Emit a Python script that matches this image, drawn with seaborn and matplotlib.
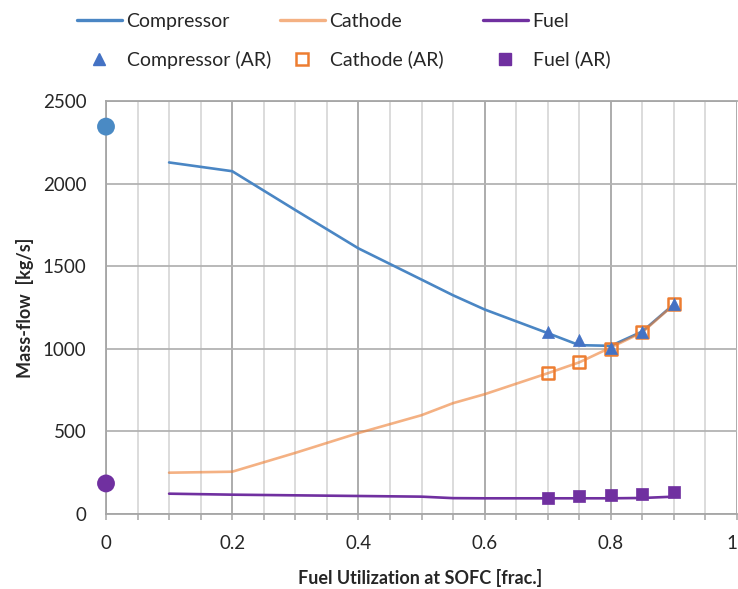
import numpy as np
import pandas as pd
import seaborn as sns
import matplotlib
matplotlib.use("Agg")
import matplotlib.pyplot as plt
from matplotlib.lines import Line2D
from matplotlib.ticker import MultipleLocator, FuncFormatter

# ---- data ----
x_line = [0.1, 0.2, 0.3, 0.4, 0.5, 0.55, 0.6, 0.7, 0.75, 0.8, 0.85, 0.9]
compressor = [2128, 2075, 1840, 1608, 1419, 1324, 1238, 1095, 1022, 1018, 1105, 1270]
cathode = [250, 256, 370, 490, 598, 671, 725, 852, 918, 1008, 1100, 1268]
fuel = [123, 117, 113, 109, 105, 96, 95, 95, 95, 95, 97, 105]

x_ar = [0.7, 0.75, 0.8, 0.85, 0.9]
compressor_ar = [1100, 1052, 1004, 1100, 1270]
cathode_ar = [852, 919, 998, 1100, 1270]
fuel_ar = [99, 109, 115, 119, 135]

x_ref = [0.0, 0.0]
ref_vals = [2345, 185]
ref_names = ["Compressor (ref)", "Fuel (ref)"]

c_comp = "#4a86c4"
c_cath = "#ED7D31"
c_fuel = "#7030A0"
c_comp_ar = "#4472C4"
c_ref_blue = "#4a8ac4"

sns.set_theme(style="white")
plt.rcParams["font.family"] = ["Lato", "DejaVu Sans"]

df_lines = pd.DataFrame({
    "x": x_line * 3,
    "y": compressor + cathode + fuel,
    "series": ["Compressor"] * len(x_line) + ["Cathode"] * len(x_line) + ["Fuel"] * len(x_line),
})

fig = plt.figure(figsize=(7.38, 5.89), dpi=100)
W, H = 738, 589
ax = fig.add_axes([106 / W, 1 - 514 / H, (737 - 106) / W, (514 - 101) / H])

lw = 1.9
sns.lineplot(data=df_lines[df_lines.series == "Compressor"], x="x", y="y", color=c_comp,
             lw=lw, ax=ax, legend=False, zorder=3)
sns.lineplot(data=df_lines[df_lines.series == "Cathode"], x="x", y="y", color=c_cath,
             lw=lw, alpha=0.6, ax=ax, legend=False, zorder=4)
sns.lineplot(data=df_lines[df_lines.series == "Fuel"], x="x", y="y", color=c_fuel,
             lw=lw, ax=ax, legend=False, zorder=3)

ms = 75
sns.scatterplot(x=x_ar, y=cathode_ar, marker="s", s=ms, facecolor="none",
                edgecolor=c_cath, linewidth=1.8, ax=ax, zorder=5)
sns.scatterplot(x=x_ar, y=compressor_ar, marker="^", s=ms, color=c_comp_ar,
                edgecolor=c_comp_ar, linewidth=0.5, ax=ax, zorder=6)
sns.scatterplot(x=x_ar, y=fuel_ar, marker="s", s=ms, color=c_fuel,
                edgecolor=c_fuel, linewidth=0.5, ax=ax, zorder=6)
sns.scatterplot(x=x_ref, y=ref_vals, hue=ref_names, palette=[c_ref_blue, c_fuel],
                s=165, edgecolor="none", ax=ax, legend=False, zorder=7, clip_on=False)

ax.set_xlim(0, 1)
ax.set_ylim(0, 2500)
ax.xaxis.set_major_locator(MultipleLocator(0.2))
ax.xaxis.set_minor_locator(MultipleLocator(0.05))
ax.yaxis.set_major_locator(MultipleLocator(500))
ax.xaxis.set_major_formatter(FuncFormatter(lambda v, p: f"{v:g}"))

ax.grid(which="minor", axis="x", color="#d9d9d9", lw=1.3, zorder=0)
ax.grid(which="major", axis="x", color="#a6a6a6", lw=1.3, zorder=0)
ax.grid(which="major", axis="y", color="#b3b3b3", lw=1.3, zorder=0)
ax.set_axisbelow(True)

for s in ["left", "bottom", "top"]:
    ax.spines[s].set_color("#a6a6a6")
    ax.spines[s].set_linewidth(1.3)
ax.spines["right"].set_visible(False)

ax.tick_params(axis="y", which="both", length=0, pad=14, labelsize=13.5, labelcolor="#262626")
ax.tick_params(axis="x", which="both", length=4, width=1.1, color="#a6a6a6", direction="out",
               pad=11, labelsize=13.5, labelcolor="#262626", bottom=True)

ax.set_xlabel("Fuel Utilization at SOFC [frac.]", fontsize=13, fontweight="bold",
              color="#262626", va="center")
ax.set_ylabel("Mass-flow  [kg/s]", fontsize=13, fontweight="bold", color="#262626",
              va="center")
ax.xaxis.set_label_coords((420 - 106) / 631, (514 - 578) / 413)
ax.yaxis.set_label_coords((25 - 106) / 631, 0.5)

# keep the last x tick label ("1") inside the figure edge
fig.canvas.draw()
for t in ax.get_xticklabels():
    if t.get_text() == "1":
        t.set_horizontalalignment("right")

# ---- legend: three columns, each with line on row 1 and marker on row 2 ----
entries = [
    (77, Line2D([], [], color=c_comp, lw=2.4), "Compressor",
     Line2D([], [], ls="none", marker="^", ms=8, color=c_comp_ar), "Compressor (AR)"),
    (280, Line2D([], [], color=c_cath, alpha=0.6, lw=2.4), "Cathode",
     Line2D([], [], ls="none", marker="s", ms=8, mfc="none", mec=c_cath, mew=1.8), "Cathode (AR)"),
    (483, Line2D([], [], color=c_fuel, lw=2.4), "Fuel",
     Line2D([], [], ls="none", marker="s", ms=8, color=c_fuel), "Fuel (AR)"),
]
for xpix, h1, l1, h2, l2 in entries:
    fig.legend([h1, h2], [l1, l2], loc="upper left",
               bbox_to_anchor=(xpix / W, 1 - 13 / H), bbox_transform=fig.transFigure,
               frameon=False, fontsize=14, handlelength=2.3, handletextpad=0.25,
               borderpad=0, borderaxespad=0, labelspacing=1.06, labelcolor="#262626")

fig.savefig("out.png", dpi=100)
